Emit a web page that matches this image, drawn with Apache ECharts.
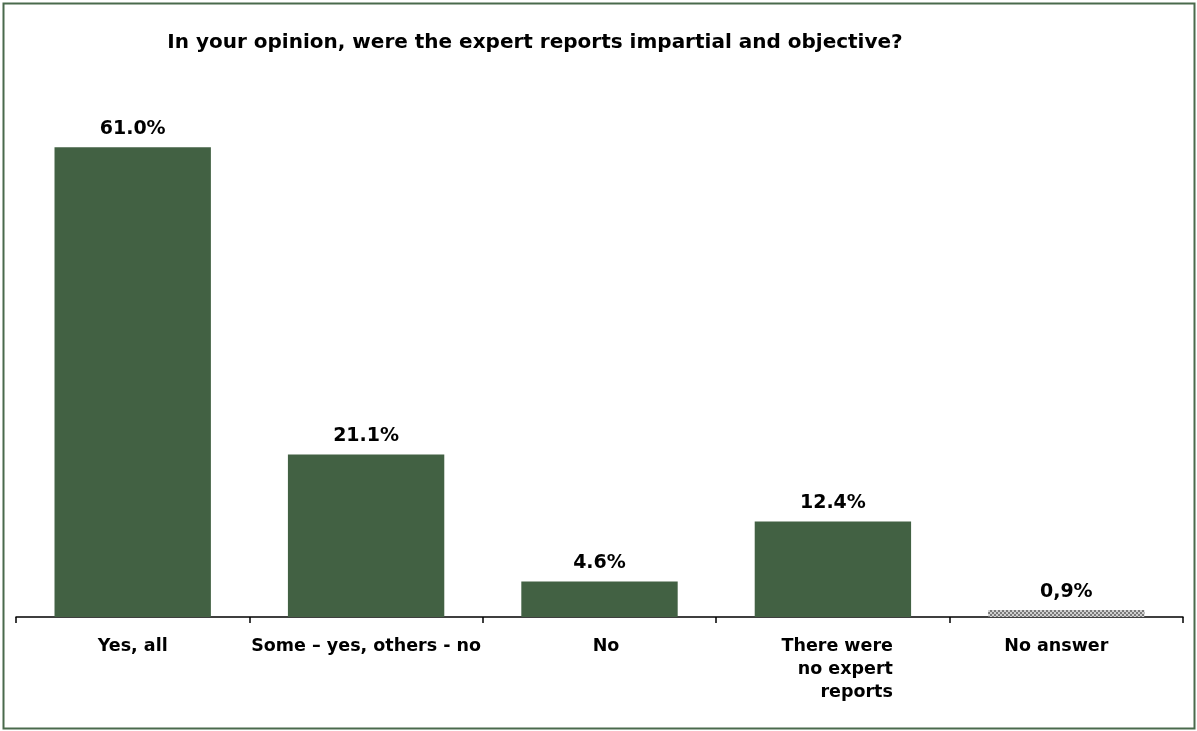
<!DOCTYPE html>
<html>
<head>
<meta charset="utf-8">
<script src="https://cdn.jsdelivr.net/npm/echarts@6/dist/echarts.min.js"></script>
<style>
  html, body { margin: 0; padding: 0; background: #fff; }
  #chart { width: 1197px; height: 731px; }
</style>
</head>
<body>
<div id="chart"></div>
<script>
// Survey answers and shares (%)
var categories = ['Yes, all', 'Some \u2013 yes, others - no', 'No', 'There were\nno expert\nreports', 'No answer'];
var values = [61.0, 21.1, 4.6, 12.4, 0.9];
var valueLabels = ['61.0%', '21.1%', '4.6%', '12.4%', '0,9%'];

// Small checkered tile for the "No answer" bar
function checkerTile() {
  var c = document.createElement('canvas');
  c.width = 4; c.height = 4;
  var g = c.getContext('2d');
  g.fillStyle = '#d0d0d0'; g.fillRect(0, 0, 4, 4);
  g.fillStyle = '#7a7a7a';
  g.fillRect(0, 0, 2, 2); g.fillRect(2, 2, 2, 2);
  return c;
}

var FONT = '"DejaVu Sans", Verdana, sans-serif';
var GREEN = '#426143';

// Label padding nudges per category (left/right), in px
var labelPad = { 'No': [0, 0, 0, 13], 'No answer': [0, 20, 0, 0] };

var axisData = categories.map(function (c) {
  return labelPad[c] ? { value: c, textStyle: { padding: labelPad[c] } } : c;
});

var barData = values.map(function (v, i) {
  var item = { value: v };
  if (i === values.length - 1) {
    item.itemStyle = { color: { image: checkerTile(), repeat: 'repeat' } };
  }
  return item;
});

var chart = echarts.init(document.getElementById('chart'));
chart.setOption({
  backgroundColor: '#fff',
  animation: false,
  title: {
    text: 'In your opinion, were the expert reports impartial and objective?',
    left: 530,
    textAlign: 'center',
    top: 28,
    textStyle: { fontFamily: FONT, fontWeight: 'bold', fontSize: 20, color: '#000' }
  },
  graphic: [{
    type: 'rect',
    shape: { x: 3.5, y: 3.5, width: 1191, height: 725 },
    style: { fill: 'none', stroke: '#4a6a4c', lineWidth: 2 },
    silent: true
  }],
  grid: { left: 16, right: 14, top: 78, bottom: 114, containLabel: false },
  xAxis: {
    type: 'category',
    data: axisData,
    axisLine: { show: true, lineStyle: { color: '#000', width: 1.5 } },
    axisTick: { show: true, length: 6, alignWithLabel: false, lineStyle: { color: '#000', width: 1.5 } },
    axisLabel: {
      interval: 0,
      margin: 18,
      color: '#000',
      fontFamily: FONT,
      fontWeight: 'bold',
      fontSize: 17.5,
      lineHeight: 23,
      formatter: function (val) {
        if (val.indexOf('\n') >= 0) {
          return val.split('\n').map(function (s) { return '{r|' + s + '}'; }).join('\n');
        }
        return val;
      },
      rich: {
        r: {
          width: 120, align: 'right',
          fontFamily: FONT, fontWeight: 'bold', fontSize: 17.5, lineHeight: 23, color: '#000'
        }
      }
    }
  },
  yAxis: {
    type: 'value',
    min: 0,
    max: 70,
    show: false,
    splitLine: { show: false }
  },
  series: [{
    type: 'bar',
    data: barData,
    barCategoryGap: '33%',
    itemStyle: { color: GREEN },
    label: {
      show: true,
      position: 'top',
      distance: 9,
      color: '#000',
      fontFamily: FONT,
      fontWeight: 'bold',
      fontSize: 19,
      formatter: function (p) { return valueLabels[p.dataIndex]; }
    }
  }]
});
</script>
</body>
</html>
